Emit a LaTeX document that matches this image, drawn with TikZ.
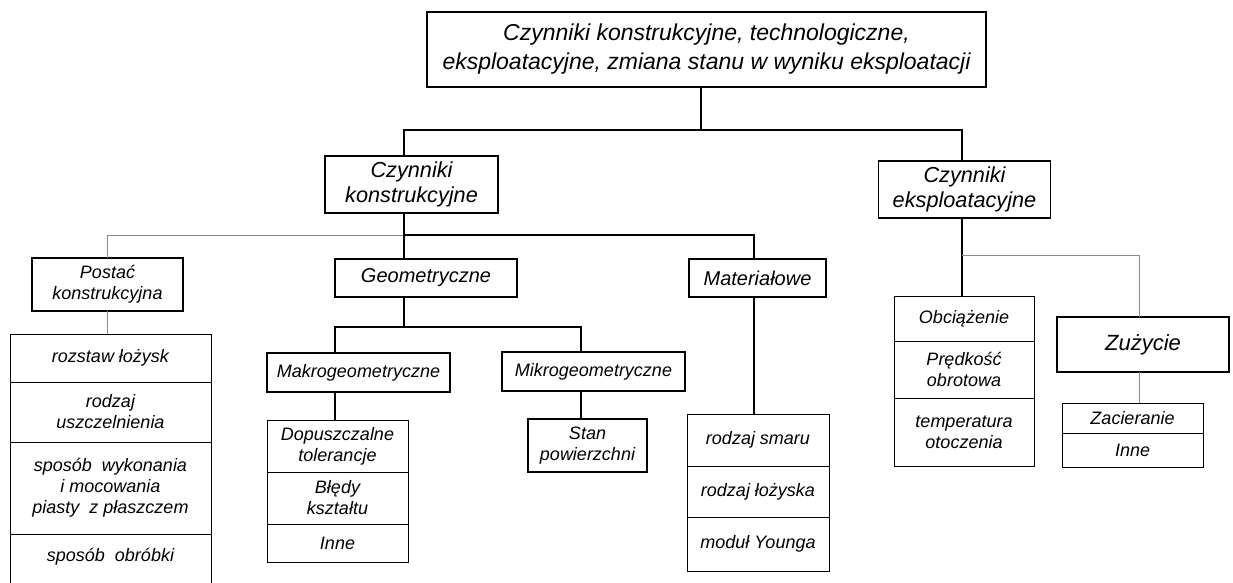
\documentclass[tikz,border=0pt]{standalone}
\usepackage{fontspec}
\setmainfont{Liberation Sans}
\usetikzlibrary{positioning}

\begin{document}
\begin{tikzpicture}[
  x=1pt, y=-1pt,
  font=\itshape,
  bx/.style={draw, line width=1.2pt, align=center, inner sep=1pt, outer sep=0pt},
  topbox/.style={bx, line width=2.6pt, minimum width=559pt, minimum height=75pt,
                 font=\itshape\fontsize{23}{29}\selectfont},
  head/.style={bx, minimum height=57pt, font=\itshape\fontsize{21.7}{25}\selectfont},
  mid/.style={bx, minimum height=38pt, font=\itshape\fontsize{20}{24}\selectfont},
  sub/.style={bx, minimum height=39pt, font=\itshape\fontsize{18}{21}\selectfont},
  row/.style={bx, line width=1pt, font=\itshape\fontsize{18}{21}\selectfont},
  ln/.style={line width=1.1pt},
  thin/.style={line width=0.8pt, black!45}
]
\useasboundingbox (0,0) rectangle (1233,583);
\clip (0,0) rectangle (1233,583);

% upper levels
\node[topbox] (top) at (706.5,49.5)
  {Czynniki konstrukcyjne, technologiczne,\\eksploatacyjne, zmiana stanu w wyniku eksploatacji};
\node[head, minimum width=173pt] (ck) at (411.5,184.5) {Czynniki\\konstrukcyjne};
\node[head, minimum width=172pt] (ce) at (964.5,189.5) {Czynniki\\eksploatacyjne};

% konstrukcyjne
\node[sub, minimum width=151pt, minimum height=53pt] (pk) at (107.5,284.5) {Postać\\konstrukcyjna};
\node[mid, minimum width=182pt] (geo) at (426,278) {Geometryczne};
\node[mid, minimum width=137pt] (mat) at (757.5,278) {Materiałowe};
\node[sub, minimum width=183pt] (makro) at (358.5,372.5) {Makrogeometryczne};
\node[sub, minimum width=183pt] (mikro) at (593.5,371.5) {Mikrogeometryczne};
\node[sub, minimum width=119pt, minimum height=53pt] (stan) at (587.5,445.5) {Stan\\powierzchni};

\node[row, minimum width=201pt, minimum height=48pt] (pk1) at (110.5,358) {rozstaw łożysk};
\node[row, minimum width=201pt, minimum height=60pt, below=0pt of pk1] (pk2) {rodzaj\\uszczelnienia};
\node[row, minimum width=201pt, minimum height=92pt, below=0pt of pk2] (pk3)
  {sposób~ wykonania\\i mocowania\\piasty~ z płaszczem};
\node[row, minimum width=201pt, minimum height=66pt, below=0pt of pk3] (pk4)
  {\raisebox{24pt}{sposób~ obróbki}};

\node[row, minimum width=141pt, minimum height=52pt] (dop1) at (337.5,446) {Dopuszczalne\\tolerancje};
\node[row, minimum width=141pt, minimum height=52pt, below=0pt of dop1] (dop2) {Błędy\\kształtu};
\node[row, minimum width=141pt, minimum height=38pt, below=0pt of dop2] (dop3) {Inne};

\node[row, minimum width=142pt, minimum height=52pt] (mat1) at (758,440) {rodzaj smaru};
\node[row, minimum width=142pt, minimum height=51pt, below=0pt of mat1] (mat2) {rodzaj łożyska};
\node[row, minimum width=142pt, minimum height=54pt, below=0pt of mat2] (mat3) {moduł Younga};

% eksploatacyjne
\node[row, minimum width=140pt, minimum height=45pt] (obc1) at (964,318.5) {Obciążenie};
\node[row, minimum width=140pt, minimum height=57pt, below=0pt of obc1] (obc2) {Prędkość\\obrotowa};
\node[row, minimum width=140pt, minimum height=68pt, below=0pt of obc2] (obc3) {temperatura\\otoczenia};

\node[bx, minimum width=172pt, minimum height=55pt, font=\itshape\fontsize{22}{26}\selectfont]
  (zu) at (1143,344.5) {Zużycie};
\node[row, minimum width=141pt, minimum height=30pt] (zac1) at (1132.5,418) {Zacieranie};
\node[row, minimum width=141pt, minimum height=34pt, below=0pt of zac1] (zac2) {Inne};

% connectors
\draw[ln] ([xshift=-5.5pt]top.south) -- ++(0,43) coordinate (j0);
\draw[ln] ([xshift=-7.5pt]ck.north) |- (j0) -| ([xshift=-2.5pt]ce.north);

\draw[ln] ([xshift=-7.5pt]ck.south) -- ++(0,22) coordinate (j1);
\draw[thin] (pk.north) |- (j1);
\draw[ln] (j1) -| ([xshift=-3.5pt]mat.north);
\draw[ln] (j1) -- ([xshift=-22pt]geo.north);
\draw[thin] (pk.south) -- ([xshift=-3pt]pk1.north);

\draw[ln] ([xshift=-22pt]geo.south) -- ++(0,30) coordinate (j2);
\draw[ln] ([xshift=-23.5pt]makro.north) |- (j2) -| ([xshift=-12.5pt]mikro.north);
\draw[ln] ([xshift=-23.5pt]makro.south) -- ([xshift=-2.5pt]dop1.north);
\draw[ln] ([xshift=-12.5pt]mikro.south) -- ([xshift=-6.5pt]stan.north);
\draw[ln] ([xshift=-3.5pt]mat.south) -- ([xshift=-4pt]mat1.north);

\draw[ln] ([xshift=-2.5pt]ce.south) -- ([xshift=-2pt]obc1.north);
\path ([xshift=-2.5pt]ce.south) ++(0,37) coordinate (j3);
\draw[thin] (j3) -| ([xshift=-4pt]zu.north);
\draw[thin] ([xshift=-4pt]zu.south) -- ([xshift=6.5pt]zac1.north);
\end{tikzpicture}
\end{document}
